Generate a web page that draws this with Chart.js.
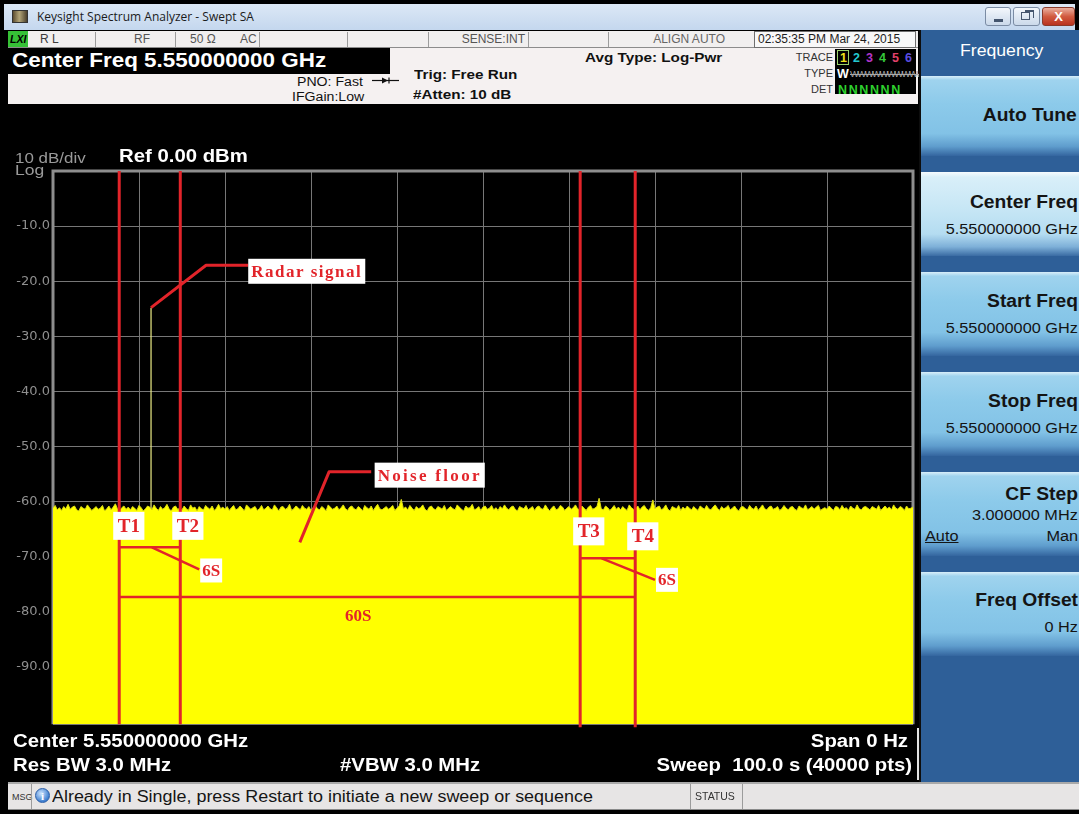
<!DOCTYPE html>
<html lang="en">
<head>
<meta charset="utf-8">
<title>Keysight Spectrum Analyzer - Swept SA</title>
<script src="https://cdn.jsdelivr.net/npm/chart.js@4.4.1/dist/chart.umd.min.js"></script>
<style>
  html, body { margin:0; padding:0; }
  body { width:1079px; height:814px; background:#000; position:relative; overflow:hidden;
         font-family:"Liberation Sans", Arial, sans-serif; }
  .box { position:absolute; box-sizing:border-box; }
  .t { position:absolute; white-space:nowrap; line-height:1; transform-origin:0 50%; transform:scaleX(1.13); }
  .r { transform-origin:100% 50%; text-align:right; }
  .b { font-weight:bold; }
  .sep { position:absolute; width:1px; background:#9c9c9c; }
  .wb { position:absolute; box-sizing:border-box; border:1px solid #7b8ca4; border-radius:3px;
        background:linear-gradient(#f3f7fc,#cbd9ea); }
  .key { position:absolute; left:921px; width:158px; box-sizing:border-box;
         background:linear-gradient(180deg,#d8eef9 0%,#9fd3ee 5%,#8ccaea 35%,#82c2e6 72%,#5f9dcd 88%,#34659f 100%); }
  .key.on { background:linear-gradient(180deg,#f6fbfe 0%,#d9eff9 6%,#c6e6f5 45%,#b4dcf1 74%,#7eb0d8 89%,#3a6ba3 100%); }
  .kt { font-size:18px; font-weight:bold; color:#141414; transform:scaleX(1.07); }
  .kv { font-size:15.5px; color:#141414; transform:scaleX(1.05); }
  .low { font-size:18px; font-weight:bold; color:#fff; }
  #scope { position:absolute; left:8px; top:105px; }
</style>
</head>
<body>

<!-- window title bar -->
<div class="box" style="left:4px;top:4px;width:1071px;height:26px;background:linear-gradient(#dce8f6,#c4d7ee);"></div>
<div class="box" style="left:12px;top:10px;width:16px;height:13px;border:1px solid #333;background:linear-gradient(90deg,#5d4d30,#b3a578 45%,#4a3f2b);"></div>
<div class="t" style="left:37px;top:11px;font-size:12px;color:#1b1b1b;transform:none;font-family:'Open Sans','Liberation Sans',sans-serif;">Keysight Spectrum Analyzer - Swept SA</div>
<div class="wb" style="left:985px;top:7px;width:26px;height:19px;"><div class="box" style="left:8px;top:11px;width:9px;height:3px;background:#44556e;"></div></div>
<div class="wb" style="left:1013px;top:7px;width:27px;height:19px;"><div class="box" style="left:7px;top:4px;width:9px;height:8px;border:1.5px solid #44556e;"></div><div class="box" style="left:11px;top:2px;width:9px;height:8px;border-top:2px solid #44556e;border-right:1.5px solid #44556e;"></div></div>
<div class="wb" style="left:1042px;top:7px;width:33px;height:19px;border-color:#8a3a2a;background:linear-gradient(#eab0a0,#d15b40 50%,#b93320);color:#fff;font:bold 13px 'Liberation Sans';text-align:center;line-height:17px;">X</div>

<!-- status row -->
<div class="box" style="left:8px;top:31px;width:910px;height:17px;background:#f1efef;border-bottom:1px solid #8c8c8c;"></div>
<div class="box" style="left:8px;top:31px;width:20px;height:16px;background:#36c236;"></div>
<div class="t b" style="left:10px;top:34px;font-size:10.5px;font-style:italic;color:#000;transform:none;">LXI</div>
<div class="t" style="left:40px;top:33px;font-size:12px;color:#3c3c3c;transform:none;">R L</div>
<div class="sep" style="left:95px;top:32px;height:15px;"></div>
<div class="t" style="left:134px;top:33px;font-size:12px;color:#555;transform:none;">RF</div>
<div class="sep" style="left:175px;top:32px;height:15px;"></div>
<div class="t" style="left:190px;top:33px;font-size:12px;color:#555;transform:none;">50 Ω</div>
<div class="t" style="left:240px;top:33px;font-size:12px;color:#555;transform:none;">AC</div>
<div class="sep" style="left:259px;top:32px;height:15px;"></div>
<div class="sep" style="left:347px;top:32px;height:15px;"></div>
<div class="sep" style="left:428px;top:32px;height:15px;"></div>
<div class="t r" style="right:554px;top:33px;font-size:12px;color:#555;transform:none;">SENSE:INT</div>
<div class="sep" style="left:528px;top:32px;height:15px;"></div>
<div class="sep" style="left:608px;top:32px;height:15px;"></div>
<div class="t r" style="right:354px;top:33px;font-size:12px;color:#666;transform:none;">ALIGN AUTO</div>
<div class="box" style="left:754px;top:31px;width:162px;height:17px;border:1px solid #6f6f6f;background:#f8f8f8;"></div>
<div class="t" style="left:758px;top:33px;font-size:12px;color:#1e1e1e;transform:none;">02:35:35 PM Mar 24, 2015</div>

<!-- settings header -->
<div class="box" style="left:8px;top:48px;width:910px;height:56px;background:#f5f1f1;"></div>
<div class="box" style="left:8px;top:48px;width:382px;height:26px;background:#000;"></div>
<div class="t b" style="left:12px;top:51px;font-size:19.5px;color:#fff;transform:scaleX(1.15);">Center Freq 5.550000000 GHz</div>
<div class="t" style="left:297px;top:76px;font-size:12.5px;color:#111;">PNO: Fast</div>
<svg class="box" style="left:372px;top:76px;" width="27" height="9" viewBox="0 0 27 9"><line x1="0" y1="4.5" x2="27" y2="4.5" stroke="#111" stroke-width="1.2"/><polygon points="10,1.5 16,4.5 10,7.5" fill="#111"/><line x1="17" y1="1.5" x2="17" y2="7.5" stroke="#111" stroke-width="1.2"/></svg>
<div class="t" style="left:292px;top:91px;font-size:12.5px;color:#111;">IFGain:Low</div>
<div class="t b" style="left:414px;top:68px;font-size:13.5px;color:#111;">Trig: Free Run</div>
<div class="t b" style="left:413px;top:88px;font-size:13.5px;color:#111;">#Atten: 10 dB</div>
<div class="t b" style="left:585px;top:51px;font-size:13.5px;color:#111;">Avg Type: Log-Pwr</div>
<div class="t r" style="right:246px;top:52px;font-size:11px;color:#333;transform:none;">TRACE</div>
<div class="t r" style="right:246px;top:68px;font-size:11px;color:#333;transform:none;">TYPE</div>
<div class="t r" style="right:246px;top:84px;font-size:11px;color:#333;transform:none;">DET</div>
<div class="box" style="left:835px;top:49px;width:81px;height:45px;background:#000;"></div>
<div class="box" style="left:837px;top:50px;width:12px;height:15px;border:1px solid #9ad26a;"></div>
<div class="t b" style="left:840px;top:52px;font-size:12.5px;color:#f0e21a;transform:none;">1</div>
<div class="t b" style="left:853px;top:52px;font-size:12.5px;color:#23c8cf;transform:none;">2</div>
<div class="t b" style="left:866px;top:52px;font-size:12.5px;color:#b234c9;transform:none;">3</div>
<div class="t b" style="left:879px;top:52px;font-size:12.5px;color:#35c83a;transform:none;">4</div>
<div class="t b" style="left:892px;top:52px;font-size:12.5px;color:#e0406a;transform:none;">5</div>
<div class="t b" style="left:905px;top:52px;font-size:12.5px;color:#5a4de0;transform:none;">6</div>
<div class="t b" style="left:837px;top:68px;font-size:12.5px;color:#fff;transform:none;">W</div>
<div class="t" style="left:850px;top:69px;font-size:9.5px;color:#aaa;letter-spacing:-1.6px;text-decoration:line-through;transform:none;">WWWWWWWWWW</div>
<div class="t b" style="left:838px;top:84px;font-size:12.5px;color:#2ed12e;letter-spacing:1.6px;transform:none;">NNNNNN</div>

<!-- display area -->
<div class="box" style="left:8px;top:104px;width:910px;height:676px;background:#000;"></div>
<canvas id="scope" width="910" height="630"></canvas>
<div class="t" style="left:15px;top:150px;font-size:15px;color:#9a9a9a;">10 dB/div</div>
<div class="t" style="left:15px;top:162px;font-size:15.5px;color:#9a9a9a;">Log</div>
<div class="t b" style="left:119px;top:147px;font-size:18px;color:#fff;">Ref 0.00 dBm</div>

<div class="t low" style="left:13px;top:732px;">Center 5.550000000 GHz</div>
<div class="t low" style="left:13px;top:756px;">Res BW 3.0 MHz</div>
<div class="t low" style="left:340px;top:756px;">#VBW 3.0 MHz</div>
<div class="t low r" style="right:171px;top:732px;">Span 0 Hz</div>
<div class="t low r" style="right:167px;top:756px;">Sweep&nbsp;&nbsp;100.0 s (40000 pts)</div>
<div class="box" style="left:917px;top:728px;width:2px;height:52px;background:#e4e4e4;"></div>

<!-- soft key panel -->
<div class="box" style="left:919px;top:30px;width:160px;height:752px;background:#2e5f98;border-left:2px solid #0d0d0d;"></div>
<div class="t" style="left:960px;top:42px;font-size:16.5px;color:#fff;transform:scaleX(1.07);">Frequency</div>

<div class="key" style="top:76px;height:80px;"></div>
<div class="t kt r" style="right:2px;top:106px;">Auto Tune</div>

<div class="key on" style="top:172px;height:84px;"></div>
<div class="t kt r" style="right:1px;top:193px;">Center Freq</div>
<div class="t kv r" style="right:1px;top:221px;">5.550000000 GHz</div>

<div class="key" style="top:272px;height:84px;"></div>
<div class="t kt r" style="right:1px;top:292px;">Start Freq</div>
<div class="t kv r" style="right:1px;top:320px;">5.550000000 GHz</div>

<div class="key" style="top:372px;height:84px;"></div>
<div class="t kt r" style="right:1px;top:392px;">Stop Freq</div>
<div class="t kv r" style="right:1px;top:420px;">5.550000000 GHz</div>

<div class="key" style="top:472px;height:84px;"></div>
<div class="t kt r" style="right:1px;top:485px;">CF Step</div>
<div class="t kv r" style="right:1px;top:507px;">3.000000 MHz</div>
<div class="t kv" style="left:925px;top:528px;text-decoration:underline;">Auto</div>
<div class="t kv r" style="right:1px;top:528px;">Man</div>

<div class="key" style="top:572px;height:84px;"></div>
<div class="t kt r" style="right:1px;top:591px;">Freq Offset</div>
<div class="t kv r" style="right:1px;top:619px;">0 Hz</div>

<!-- message bar -->
<div class="box" style="left:8px;top:782px;width:1071px;height:28px;background:#e7e5e5;border-top:2px solid #a9a9a9;border-bottom:1px solid #8a8a8a;"></div>
<div class="t" style="left:12px;top:793px;font-size:9px;color:#333;transform:none;">MSG</div>
<div class="sep" style="left:31px;top:784px;height:25px;"></div>
<div class="box" style="left:35px;top:788px;width:15px;height:15px;border-radius:50%;background:radial-gradient(circle at 40% 35%,#cfe6ff,#3f7fd0 70%);border:1px solid #2b5ea8;color:#fff;font:bold 11px 'Liberation Serif';text-align:center;line-height:14px;">i</div>
<div class="t" style="left:52px;top:789px;font-size:16px;color:#151515;transform:scaleX(1.12);">Already in Single, press Restart to initiate a new sweep or sequence</div>
<div class="sep" style="left:690px;top:784px;height:25px;"></div>
<div class="t" style="left:695px;top:791px;font-size:10.5px;color:#333;transform:none;">STATUS</div>
<div class="sep" style="left:742px;top:784px;height:25px;"></div>

<script>
// ---- sweep data (zero span, 100 s sweep, time in seconds, level in dBm) ----
const sweepStepS = 0.25;
const noiseFloorDbm = [
  -61.2,-60.7,-61.5,-61.1,-61.6,-60.9,-61.3,-60.5,-61.4,-61.0,-60.8,-61.5,-61.7,-60.9,-61.2,-61.4,-60.6,-61.1,-61.6,-61.3,
  -60.9,-61.4,-61.2,-60.7,-61.7,-61.3,-60.8,-61.5,-61.0,-60.4,-61.3,-61.6,-61.1,-60.8,-61.4,-61.0,-61.5,-60.9,-61.2,-61.6,
  -60.7,-61.1,-61.7,-61.3,-60.8,-61.0,-61.5,-60.6,-61.2,-61.6,-60.9,-61.4,-61.1,-60.5,-61.3,-61.7,-61.0,-60.8,-61.4,-61.2,
  -61.5,-60.8,-61.3,-61.6,-60.6,-61.2,-61.0,-61.7,-60.9,-61.3,-61.5,-60.7,-61.1,-61.4,-60.8,-61.6,-61.2,-60.5,-61.3,-61.0,
  -61.4,-60.9,-61.6,-61.1,-60.7,-61.5,-61.3,-60.8,-61.2,-61.7,-60.6,-61.0,-61.4,-61.1,-60.9,-61.6,-61.3,-60.7,-61.5,-61.2,
  -60.8,-61.3,-61.5,-60.6,-61.1,-61.7,-61.0,-60.9,-61.4,-61.2,-60.5,-61.6,-61.3,-60.8,-61.1,-61.5,-60.7,-61.2,-61.4,-60.9,
  -61.6,-61.1,-60.7,-61.3,-61.5,-60.9,-61.2,-61.7,-60.6,-61.0,-61.4,-61.2,-60.8,-61.5,-61.1,-60.6,-61.3,-61.6,-61.0,-60.8,
  -61.3,-61.5,-60.9,-61.2,-61.7,-60.7,-61.1,-61.4,-60.8,-61.6,-61.0,-60.5,-61.3,-61.5,-61.2,-60.9,-61.4,-61.1,-60.7,-61.6,
  -61.2,-60.8,-59.6,-61.3,-61.0,-61.5,-60.7,-61.2,-61.6,-60.9,-61.3,-61.1,-60.6,-61.4,-61.7,-61.0,-60.8,-61.3,-61.5,-60.9,
  -61.1,-61.4,-60.7,-61.6,-61.2,-60.9,-61.3,-61.5,-60.6,-61.0,-61.4,-61.7,-60.8,-61.2,-61.1,-60.5,-61.5,-61.3,-60.9,-61.6,
  -61.0,-60.8,-61.4,-61.2,-60.7,-61.5,-61.1,-61.6,-60.9,-61.3,-60.6,-61.2,-61.5,-61.0,-60.8,-61.4,-61.7,-60.9,-61.1,-61.3,
  -60.7,-61.5,-61.2,-60.9,-61.6,-61.0,-60.8,-61.3,-61.4,-60.6,-61.2,-61.7,-61.1,-60.8,-61.5,-61.3,-60.7,-61.0,-61.6,-61.2,
  -60.9,-61.4,-61.1,-60.6,-61.3,-61.5,-60.8,-61.2,-61.6,-61.0,-60.7,-61.4,-61.2,-60.9,-59.4,-61.3,-61.5,-60.8,-61.1,-61.6,
  -61.2,-60.7,-61.4,-61.0,-61.5,-60.9,-61.3,-61.6,-60.6,-61.1,-61.4,-61.2,-60.8,-61.5,-61.0,-60.7,-61.3,-61.6,-61.1,-59.7,
  -61.3,-61.0,-60.8,-61.5,-61.2,-60.6,-61.4,-61.7,-60.9,-61.1,-61.3,-60.7,-61.6,-61.0,-61.4,-60.8,-61.2,-61.5,-60.9,-61.3,
  -61.6,-60.8,-61.1,-61.4,-60.7,-61.3,-61.5,-61.0,-60.6,-61.2,-61.6,-60.9,-61.3,-61.1,-60.7,-61.5,-61.2,-60.8,-61.4,-61.7,
  -61.0,-60.9,-61.3,-61.5,-60.7,-61.2,-61.4,-60.8,-61.6,-61.1,-60.6,-61.3,-61.5,-61.0,-60.8,-61.4,-61.2,-60.9,-61.6,-61.3,
  -60.7,-61.2,-61.5,-61.0,-60.9,-61.4,-61.6,-60.8,-61.1,-61.3,-60.6,-61.5,-61.2,-60.9,-61.4,-61.0,-60.7,-61.6,-61.3,-61.1,
  -61.4,-60.8,-61.2,-61.6,-60.9,-61.0,-61.5,-60.7,-61.3,-61.1,-61.6,-60.8,-61.2,-61.4,-60.6,-61.3,-61.5,-61.0,-60.9,-61.2,
  -61.5,-60.9,-61.1,-61.4,-60.7,-61.6,-61.2,-60.8,-61.3,-61.0,-61.5,-60.6,-61.2,-61.4,-60.9,-61.1,-61.6,-60.8,-61.3,-61.2,
  -61.0
];

// single radar burst captured during the sweep
const radarPulseTimeS = 11.4;
const radarPeakDbm = -24.8;

// gate markers T1..T4 (s) and the intervals marked between them
const gateNames = ['T1', 'T2', 'T3', 'T4'];
const gateTimesS = [7.7, 14.8, 61.3, 67.7];
const intervalLabels = ['6S', '6S', '60S'];

// axis ticks
const levelTicksDbm = [-10, -20, -30, -40, -50, -60, -70, -80, -90];

const markRed = '#e2242a';
const tagFont = "bold 19px 'Liberation Serif', 'DejaVu Serif', serif";
const noteFont = "bold 17px 'Liberation Serif', 'DejaVu Serif', serif";

const tracePoints = noiseFloorDbm.map((v, i) => ({ x: i * sweepStepS, y: v }));
const pulseBase = noiseFloorDbm[Math.round(radarPulseTimeS / sweepStepS)];
const pulsePoints = [{ x: radarPulseTimeS, y: pulseBase }, { x: radarPulseTimeS, y: radarPeakDbm }];

// graticule frame, drawn under the trace
const frame = {
  id: 'frame',
  beforeDatasetsDraw(chart) {
    const { ctx, chartArea: a } = chart;
    ctx.save();
    ctx.strokeStyle = '#8e8e8e';
    ctx.lineWidth = 3;
    ctx.beginPath();
    ctx.moveTo(a.left, a.bottom); ctx.lineTo(a.left, a.top);
    ctx.lineTo(a.right, a.top); ctx.lineTo(a.right, a.bottom);
    ctx.stroke();
    ctx.restore();
  }
};

// red gate markers, interval brackets and callouts
const gates = {
  id: 'gates',
  afterDatasetsDraw(chart) {
    const { ctx, chartArea: a, scales: { x, y } } = chart;
    const X = v => x.getPixelForValue(v);
    const Y = v => y.getPixelForValue(v);
    const seg = pts => {
      ctx.beginPath();
      pts.forEach(([px, py], i) => i ? ctx.lineTo(px, py) : ctx.moveTo(px, py));
      ctx.stroke();
    };
    const tag = (text, left, cy, h, padX, font, spacing) => {
      ctx.font = font;
      ctx.letterSpacing = spacing || '0px';
      const w = ctx.measureText(text).width + padX * 2;
      ctx.fillStyle = '#ffffff';
      ctx.fillRect(left, cy - h / 2, w, h);
      ctx.fillStyle = markRed;
      ctx.textAlign = 'left';
      ctx.textBaseline = 'middle';
      ctx.fillText(text, left + padX, cy + 1);
      ctx.letterSpacing = '0px';
    };
    const [t1, t2, t3, t4] = gateTimesS;

    ctx.save();
    ctx.strokeStyle = markRed;
    ctx.lineCap = 'butt';
    ctx.lineJoin = 'round';

    // vertical gate lines
    ctx.lineWidth = 3;
    gateTimesS.forEach((t, i) => seg([[X(t), a.top], [X(t), a.bottom + (i < 2 ? 0 : 3)]]));

    // interval brackets
    ctx.lineWidth = 2.5;
    seg([[X(t1), Y(-68.3)], [X(t2), Y(-68.3)]]);
    seg([[X(t3), Y(-70.3)], [X(t4), Y(-70.3)]]);
    seg([[X(t1), Y(-77.3)], [X(t4), Y(-77.3)]]);

    // callout leaders
    ctx.lineWidth = 3;
    seg([[X(radarPulseTimeS), Y(radarPeakDbm)], [X(17.8), Y(-17.1)], [X(22.7), Y(-17.1)]]);
    seg([[X(28.7), Y(-67.4)], [X(32.1), Y(-54.6)], [X(37.0), Y(-54.6)]]);
    ctx.lineWidth = 2.5;
    seg([[X(11.5), Y(-68.3)], [X(17.0), Y(-72.3)]]);
    seg([[X(63.8), Y(-70.3)], [X(70.0), Y(-74.2)]]);

    // gate tags
    const tagOffsets = [-6, -8, -7, -8];
    const tagLevels = [-64.4, -64.4, -65.4, -66.3];
    gateNames.forEach((n, i) => tag(n, X(gateTimesS[i]) + tagOffsets[i], Y(tagLevels[i]), 28, 4.5, tagFont));

    // interval labels
    tag(intervalLabels[0], X(17.0) + 1, Y(-72.5), 24, 2, noteFont);
    tag(intervalLabels[1], X(70.0) + 1, Y(-74.2), 24, 2, noteFont);
    ctx.font = noteFont;
    ctx.fillStyle = markRed;
    ctx.textAlign = 'center';
    ctx.textBaseline = 'middle';
    ctx.fillText(intervalLabels[2], X((t1 + t4) / 2 - 2.2), Y(-80.9));

    // signal callouts
    tag('Radar signal', X(22.7), Y(-18.2), 25, 3, noteFont, '1.5px');
    tag('Noise floor', X(37.4), Y(-55.2), 25, 3, noteFont, '2.3px');
    ctx.restore();
  }
};

new Chart(document.getElementById('scope'), {
  type: 'line',
  data: {
    datasets: [
      {
        label: 'Trace 1',
        data: tracePoints,
        borderColor: '#dada12',
        backgroundColor: '#ffff00',
        borderWidth: 1,
        pointRadius: 0,
        fill: 'start',
        tension: 0
      },
      {
        label: 'Radar burst',
        data: pulsePoints,
        borderColor: '#eeee86',
        borderWidth: 1.2,
        pointRadius: 0,
        fill: false
      }
    ]
  },
  options: {
    responsive: false,
    animation: false,
    devicePixelRatio: 1,
    layout: { padding: { top: 66, right: 5, bottom: 8, left: 0 } },
    plugins: { legend: { display: false }, tooltip: { enabled: false }, title: { display: false } },
    scales: {
      x: {
        type: 'linear',
        min: 0,
        max: 100,
        grid: { color: '#777777', lineWidth: 1, drawTicks: false },
        border: { display: false },
        ticks: { display: false, stepSize: 10 },
        afterFit: s => { s.height = 0; }
      },
      y: {
        min: -100.4,
        max: 0,
        grid: { color: '#777777', lineWidth: 1, drawTicks: false },
        border: { display: false },
        afterFit: s => { s.width = 45; },
        afterBuildTicks: s => { s.ticks = [0, ...levelTicksDbm, -100.4].map(v => ({ value: v })); },
        ticks: {
          color: '#8f8f8f',
          padding: 3,
          font: { family: "'DejaVu Sans', sans-serif", size: 13 },
          callback: v => levelTicksDbm.includes(v) ? v.toFixed(1) : ''
        }
      }
    }
  },
  plugins: [frame, gates]
});
</script>
</body>
</html>
